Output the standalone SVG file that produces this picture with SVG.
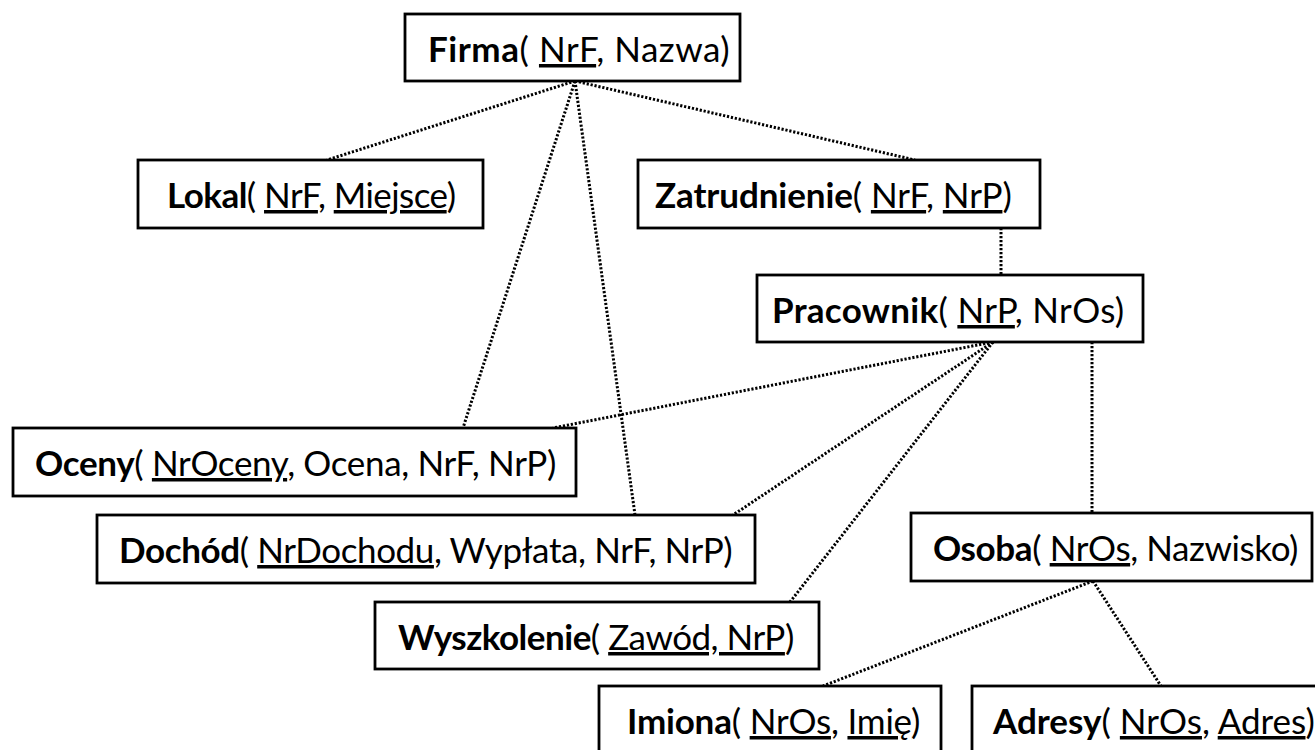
<svg xmlns="http://www.w3.org/2000/svg" width="1315" height="750" viewBox="0 0 1315 750">
  <style>
    .box { fill: #ffffff; stroke: #000000; stroke-width: 2.8; }
    .lbl { font-family: Lato, "Open Sans", "Liberation Sans", sans-serif; font-size: 35px; fill: #000000; }
    .lbl .nm { font-weight: bold; }
    .key { text-decoration: underline; text-decoration-thickness: 2.5px; }
    .link { stroke: #000000; stroke-width: 3; stroke-dasharray: 2.2 1.8; fill: none; }
  </style>
  <rect width="1315" height="750" fill="#ffffff"/>

  <!-- dotted relations between tables -->
  <g id="connectors">
    <line class="link" x1="575" y1="81" x2="327" y2="160"/>
    <line class="link" x1="575" y1="81" x2="915" y2="160"/>
    <line class="link" x1="575" y1="81" x2="463" y2="428"/>
    <line class="link" x1="575" y1="81" x2="635" y2="515"/>
    <line class="link" x1="1001" y1="228" x2="1001" y2="275"/>
    <line class="link" x1="993" y1="342" x2="553" y2="428"/>
    <line class="link" x1="993" y1="342" x2="733" y2="515"/>
    <line class="link" x1="993" y1="342" x2="790" y2="602"/>
    <line class="link" x1="1092" y1="342" x2="1092" y2="513"/>
    <line class="link" x1="1093" y1="581" x2="823" y2="686"/>
    <line class="link" x1="1093" y1="581" x2="1161" y2="686"/>
  </g>

  <g id="firma">
    <rect class="box" x="405" y="14" width="335" height="67"/>
    <text class="lbl" x="428" y="62" letter-spacing="0.55"><tspan class="nm">Firma</tspan>( <tspan class="key">NrF</tspan>, Nazwa)</text>
  </g>

  <g id="lokal">
    <rect class="box" x="138" y="160" width="345" height="68"/>
    <text class="lbl" x="167" y="208" letter-spacing="-0.55"><tspan class="nm">Lokal</tspan>( <tspan class="key">NrF</tspan>, <tspan class="key">Miejsce</tspan>)</text>
  </g>

  <g id="zatrudnienie">
    <rect class="box" x="638" y="160" width="402" height="68"/>
    <text class="lbl" x="655" y="208" letter-spacing="-0.1"><tspan class="nm">Zatrudnienie</tspan>( <tspan class="key">NrF</tspan>, <tspan class="key">NrP</tspan>)</text>
  </g>

  <g id="pracownik">
    <rect class="box" x="757" y="275" width="386" height="67"/>
    <text class="lbl" x="772" y="323" letter-spacing="0.3"><tspan class="nm">Pracownik</tspan>( <tspan class="key">NrP</tspan>, NrOs)</text>
  </g>

  <g id="oceny">
    <rect class="box" x="13" y="428" width="563" height="68"/>
    <text class="lbl" x="35" y="476" letter-spacing="-0.35"><tspan class="nm">Oceny</tspan>( <tspan class="key">NrOceny</tspan>, Ocena, NrF, NrP)</text>
  </g>

  <g id="dochod">
    <rect class="box" x="97" y="515" width="658" height="68"/>
    <text class="lbl" x="119" y="563" letter-spacing="-0.4"><tspan class="nm">Dochód</tspan>( <tspan class="key">NrDochodu</tspan>, Wypłata, NrF, NrP)</text>
  </g>

  <g id="wyszkolenie">
    <rect class="box" x="375" y="602" width="444" height="67"/>
    <text class="lbl" x="398" y="650" letter-spacing="-0.5"><tspan class="nm">Wyszkolenie</tspan>( <tspan class="key">Zawód, NrP</tspan>)</text>
  </g>

  <g id="osoba">
    <rect class="box" x="911" y="513" width="401" height="68"/>
    <text class="lbl" x="933" y="561" letter-spacing="-0.4"><tspan class="nm">Osoba</tspan>( <tspan class="key">NrOs</tspan>, Nazwisko)</text>
  </g>

  <g id="imiona">
    <rect class="box" x="599" y="686" width="342" height="70"/>
    <text class="lbl" x="627" y="734" letter-spacing="-0.2"><tspan class="nm">Imiona</tspan>( <tspan class="key">NrOs</tspan>, <tspan class="key">Imię</tspan>)</text>
  </g>

  <g id="adresy">
    <rect class="box" x="972" y="686" width="360" height="70"/>
    <text class="lbl" x="993" y="734"><tspan class="nm">Adresy</tspan>( <tspan class="key">NrOs</tspan>, <tspan class="key">Adres</tspan>)</text>
  </g>
</svg>
